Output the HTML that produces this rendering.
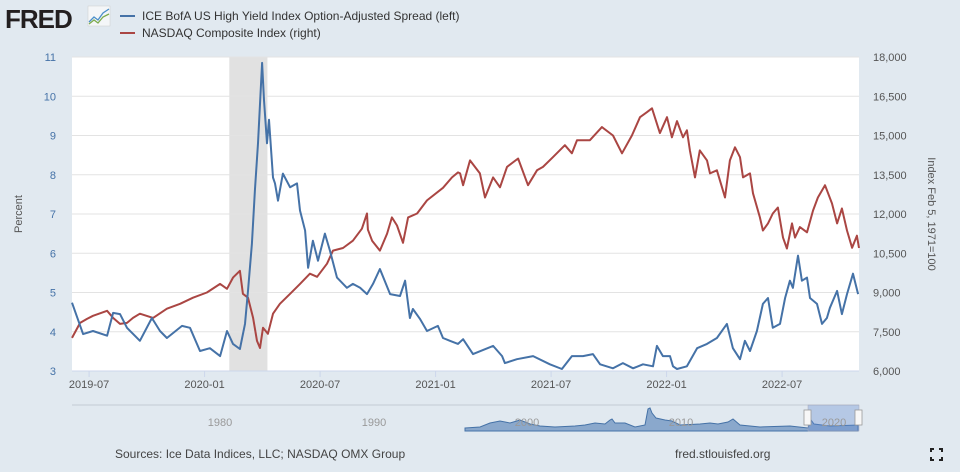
<!DOCTYPE html>
<html><head><meta charset="utf-8"><style>
body{margin:0;background:#e1e9f0;font-family:"Liberation Sans",sans-serif}
svg{display:block}
</style></head><body>
<svg id="c" width="960" height="472">
<rect x="0" y="0" width="960" height="472" fill="#e1e9f0"/>
<g>
<text x="5" y="28" font-size="26" font-weight="bold" fill="#231f20" font-family="Liberation Sans,sans-serif" letter-spacing="-1">FRED</text>
<rect x="88" y="6" width="22" height="20" fill="#f4f6f8" stroke="#ccc" stroke-width="0.5"/>
<polyline points="89,22 94,17 98,20 103,13 109,9" fill="none" stroke="#4b8fc9" stroke-width="1.3"/>
<polyline points="89,24 94,20 98,23 103,17 109,14" fill="none" stroke="#7cab4e" stroke-width="1.3"/>
</g>
<g font-size="12" fill="#333">
<g><line x1="120" y1="16" x2="135" y2="16" stroke="#4572a7" stroke-width="2"/><text x="142" y="20">ICE BofA US High Yield Index Option-Adjusted Spread (left)</text></g>
<g><line x1="120" y1="33" x2="135" y2="33" stroke="#aa4643" stroke-width="2"/><text x="142" y="37">NASDAQ Composite Index (right)</text></g>
</g>
<rect x="72" y="57" width="787" height="314" fill="#fff"/>
<g id="grid"></g>
<g id="marks"></g>
<g id="axes" font-size="11" fill="#555"></g>
<text transform="translate(22,214) rotate(-90)" text-anchor="middle" font-size="11" fill="#555">Percent</text>
<text transform="translate(928,214) rotate(90)" text-anchor="middle" font-size="11" fill="#555">Index Feb 5, 1971=100</text>
<g>
<line x1="72" y1="405" x2="859" y2="405" stroke="#c4ccd4" stroke-width="1"/>
<path d="M465,428 L480,427 L490,423 L500,421 L510,423 L520,420 L530,424 L540,426 L555,427 L575,426 L585,425 L595,423 L605,424 L610,420 L612,419 L615,423 L625,423 L635,427 L645,425 L648,409 L650,408 L652,413 L656,418 L665,420 L672,421 L680,425 L700,424 L710,423 L718,424 L728,422 L733,419 L740,425 L760,427 L790,426 L808,428 L811,420 L814,424 L830,426 L858,425 L858,431 L465,431 Z" fill="#8aa8cc" stroke="#4572a7" stroke-width="1"/>
<rect x="808" y="405" width="51" height="26" fill="rgba(100,140,210,0.35)" stroke="#aab" stroke-width="0.5"/>
<rect x="804" y="410" width="7" height="15" fill="#f7f7f7" stroke="#999" stroke-width="0.8"/>
<rect x="855" y="410" width="7" height="15" fill="#f7f7f7" stroke="#999" stroke-width="0.8"/>
<g font-size="11" fill="#999" text-anchor="middle">
<text x="220" y="426">1980</text><text x="374" y="426">1990</text><text x="527" y="426">2000</text><text x="681" y="426">2010</text><text x="834" y="426">2020</text>
</g>
</g>
<text x="115" y="458" font-size="12" fill="#444">Sources: Ice Data Indices, LLC; NASDAQ OMX Group</text>
<text x="675" y="458" font-size="12" fill="#444">fred.stlouisfed.org</text>
<g stroke="#222" stroke-width="2" fill="none">
<path d="M931,452 v-3 h3 M939,449 h3 v3 M942,457 v3 h-3 M934,460 h-3 v-3"/>
</g>
</svg>
<script>
const hyDates=[2019.426,2019.474,2019.517,2019.578,2019.604,2019.634,2019.664,2019.720,2019.772,2019.807,2019.837,2019.902,2019.937,2019.980,2020.023,2020.067,2020.097,2020.123,2020.153,2020.175,2020.188,2020.205,2020.218,2020.231,2020.249,2020.257,2020.270,2020.279,2020.296,2020.305,2020.318,2020.339,2020.370,2020.400,2020.413,2020.435,2020.448,2020.469,2020.491,2020.521,2020.543,2020.573,2020.616,2020.642,2020.673,2020.703,2020.729,2020.759,2020.803,2020.846,2020.868,2020.889,2020.902,2020.932,2020.963,2021.010,2021.032,2021.062,2021.097,2021.119,2021.162,2021.249,2021.288,2021.300,2021.352,2021.422,2021.495,2021.547,2021.590,2021.638,2021.681,2021.712,2021.768,2021.811,2021.855,2021.898,2021.941,2021.958,2021.984,2022.015,2022.028,2022.045,2022.088,2022.132,2022.175,2022.218,2022.261,2022.287,2022.318,2022.339,2022.361,2022.391,2022.417,2022.439,2022.460,2022.491,2022.513,2022.534,2022.547,2022.569,2022.586,2022.608,2022.621,2022.651,2022.673,2022.694,2022.707,2022.738,2022.759,2022.781,2022.807,2022.829];
const hyValues=[4.74,3.94,4.02,3.90,4.48,4.45,4.10,3.77,4.35,4.02,3.84,4.15,4.10,3.51,3.58,3.38,4.02,3.69,3.56,4.20,5.04,6.24,7.60,8.80,10.85,9.90,8.80,9.40,7.93,7.78,7.34,8.03,7.68,7.78,7.09,6.58,5.63,6.32,5.81,6.50,6.06,5.38,5.12,5.22,5.12,4.96,5.22,5.60,4.96,4.91,5.30,4.35,4.58,4.33,4.02,4.15,3.84,3.77,3.69,3.81,3.43,3.64,3.38,3.20,3.30,3.38,3.17,3.05,3.38,3.38,3.43,3.17,3.07,3.20,3.07,3.17,3.12,3.64,3.38,3.38,3.12,3.05,3.12,3.58,3.69,3.84,4.20,3.58,3.30,3.77,3.51,4.02,4.71,4.86,4.10,4.20,4.86,5.30,5.12,5.94,5.30,5.38,4.86,4.71,4.20,4.35,4.61,5.04,4.45,4.96,5.48,4.96];
const nqDates=[2019.426,2019.461,2019.491,2019.517,2019.578,2019.604,2019.634,2019.664,2019.690,2019.720,2019.777,2019.837,2019.894,2019.950,2020.010,2020.067,2020.097,2020.123,2020.153,2020.166,2020.188,2020.210,2020.227,2020.240,2020.253,2020.274,2020.296,2020.326,2020.370,2020.413,2020.456,2020.487,2020.530,2020.556,2020.599,2020.642,2020.681,2020.703,2020.707,2020.725,2020.759,2020.790,2020.811,2020.833,2020.859,2020.881,2020.920,2020.963,2021.032,2021.071,2021.097,2021.106,2021.119,2021.149,2021.192,2021.214,2021.249,2021.279,2021.309,2021.357,2021.400,2021.439,2021.465,2021.508,2021.560,2021.590,2021.612,2021.668,2021.720,2021.768,2021.807,2021.850,2021.885,2021.915,2021.937,2021.971,2022.002,2022.023,2022.045,2022.071,2022.088,2022.101,2022.123,2022.144,2022.175,2022.188,2022.218,2022.240,2022.253,2022.274,2022.296,2022.318,2022.331,2022.361,2022.374,2022.404,2022.417,2022.439,2022.460,2022.482,2022.504,2022.521,2022.543,2022.556,2022.577,2022.608,2022.634,2022.655,2022.686,2022.716,2022.738,2022.759,2022.781,2022.803,2022.824,2022.833];
const nqValues=[7265,7840,7990,8110,8300,8030,7800,7840,8030,8190,8030,8380,8570,8800,9000,9330,9140,9570,9830,8950,8800,8030,7150,6880,7650,7420,8190,8570,8950,9330,9720,9600,10100,10600,10700,10980,11440,12020,11400,10980,10600,11250,11870,11560,10900,11870,12020,12520,13000,13400,13590,13550,13100,14050,13550,12630,13400,13020,13800,14120,13100,13670,13800,14170,14630,14320,14820,14820,15320,15000,14320,15000,15700,15890,16040,15090,15700,14930,15550,14930,15200,14430,13400,14430,14050,13550,13670,13020,12630,14050,14550,14170,13400,13550,12790,11870,11370,11640,12020,12250,11100,10680,11640,11100,11500,11300,12130,12630,13100,12400,11640,12210,11370,10710,11170,10700];
const leftTicks=[3,4,5,6,7,8,9,10,11];
const rightTicks=[6000,7500,9000,10500,12000,13500,15000,16500,18000];
const xTickDates=[2019.5,2020.0,2020.5,2021.0,2021.5,2022.0,2022.5];
const xTickLabels=["2019-07","2020-01","2020-07","2021-01","2021-07","2022-01","2022-07"];
const recession=[2020.107,2020.272];

const X0=72,X1=859,Y0=57,Y1=371,T0=2019.426,T1=2022.833;
const x=t=>X0+(t-T0)/(T1-T0)*(X1-X0);
const yL=v=>Y1-(v-3)/(11-3)*(Y1-Y0);
const yR=v=>Y1-(v-6000)/(18000-6000)*(Y1-Y0);
const NS="http://www.w3.org/2000/svg";
function mk(tag,attrs,parent){const e=document.createElementNS(NS,tag);for(const k in attrs)e.setAttribute(k,attrs[k]);parent.appendChild(e);return e;}
const grid=document.getElementById('grid'),marks=document.getElementById('marks'),axes=document.getElementById('axes');
const rec=mk('rect',{x:x(recession[0]),y:Y0,width:x(recession[1])-x(recession[0]),height:Y1-Y0,fill:'#e1e1e1'},grid);


leftTicks.forEach((v,i)=>{
  const g=mk('line',{x1:X0,x2:X1,y1:yL(v),y2:yL(v),stroke:'#e3e3e3','stroke-width':1},grid);
  
  
  const t=mk('text',{x:56,y:yL(v)+4,'text-anchor':'end',fill:'#4572a7'},axes);t.textContent=v;
  
  
});
rightTicks.forEach(v=>{
  const t=mk('text',{x:873,y:yR(v)+4,fill:'#555'},axes);t.textContent=v.toLocaleString('en-US');
  
  
});
mk('line',{x1:X0,x2:X1,y1:Y1,y2:Y1,stroke:'#ccd6eb'},axes);
xTickDates.forEach((d,i)=>{
  const l=mk('line',{x1:x(d),x2:x(d),y1:Y1,y2:Y1+6,stroke:'#ccd6eb'},axes);
  
  
  const t=mk('text',{x:x(d),y:Y1+17,'text-anchor':'middle',fill:'#555'},axes);t.textContent=xTickLabels[i];
  
  
});
const nq=mk('polyline',{points:nqDates.map((d,i)=>x(d).toFixed(1)+','+yR(nqValues[i]).toFixed(1)).join(' '),fill:'none',stroke:'#aa4643','stroke-width':2,'stroke-linejoin':'round'},marks);


const hy=mk('polyline',{points:hyDates.map((d,i)=>x(d).toFixed(1)+','+yL(hyValues[i]).toFixed(1)).join(' '),fill:'none',stroke:'#4572a7','stroke-width':2,'stroke-linejoin':'round'},marks);


</script>
</body></html>
